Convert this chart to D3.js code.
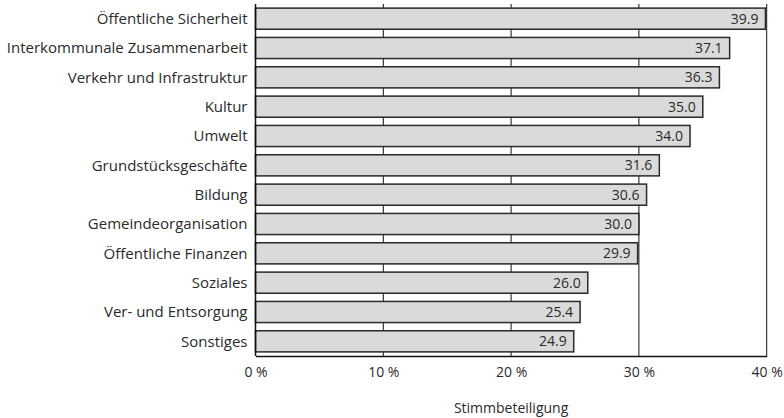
<!DOCTYPE html>
<html>
<head>
<meta charset="utf-8">
<script src="https://cdn.jsdelivr.net/npm/d3@7"></script>
<style>
  body { margin: 0; background: #fff; }
  svg text { font-family: "Open Sans", "Noto Sans", sans-serif; fill: #2a2a2a; }
</style>
</head>
<body>
<svg id="chart" width="784" height="418"></svg>
<script>
// Voter turnout by policy area
const categories = [
  "Öffentliche Sicherheit",
  "Interkommunale Zusammenarbeit",
  "Verkehr und Infrastruktur",
  "Kultur",
  "Umwelt",
  "Grundstücksgeschäfte",
  "Bildung",
  "Gemeindeorganisation",
  "Öffentliche Finanzen",
  "Soziales",
  "Ver- und Entsorgung",
  "Sonstiges"
];
const values = [39.9, 37.1, 36.3, 35.0, 34.0, 31.6, 30.6, 30.0, 29.9, 26.0, 25.4, 24.9];
const xTicks = [0, 10, 20, 30, 40];
const xTitle = "Stimmbeteiligung";

const svg = d3.select("#chart");
const plotLeft = 255.5, plotRight = 766.7, plotTop = 4, plotBottom = 356;
const fontStack = "\"Open Sans\", \"Noto Sans\", sans-serif";

const x = d3.scaleLinear().domain([0, 40]).range([plotLeft, plotRight]);
const y = d3.scaleBand().domain(categories).range([plotTop, plotBottom])
  .paddingInner(0.28).paddingOuter(0.14);

// vertical gridlines behind the bars
svg.append("g").selectAll("line").data(xTicks.filter(d => d > 0)).join("line")
  .attr("x1", d => x(d)).attr("x2", d => x(d))
  .attr("y1", plotTop).attr("y2", plotBottom)
  .attr("stroke", "#111").attr("stroke-width", 1);

// bars
svg.append("g").selectAll("rect").data(values).join("rect")
  .attr("x", x(0))
  .attr("y", (d, i) => y(categories[i]))
  .attr("width", d => x(d) - x(0))
  .attr("height", y.bandwidth())
  .attr("fill", "#dadada")
  .attr("stroke", "#2a2a2a")
  .attr("stroke-width", 1.5);

// value labels inside bar ends
svg.append("g").selectAll("text").data(values).join("text")
  .attr("x", d => x(d) - 7)
  .attr("y", (d, i) => y(categories[i]) + y.bandwidth() / 2)
  .attr("dy", "0.36em")
  .attr("text-anchor", "end")
  .attr("font-size", 14)
  .text(d => d.toFixed(1));

// left axis line and category labels
svg.append("line")
  .attr("x1", plotLeft).attr("x2", plotLeft).attr("y1", plotTop).attr("y2", plotBottom)
  .attr("stroke", "#111").attr("stroke-width", 1.5);
svg.append("g").selectAll("text").data(categories).join("text")
  .attr("x", plotLeft - 8)
  .attr("y", d => y(d) + y.bandwidth() / 2)
  .attr("dy", "0.36em")
  .attr("text-anchor", "end")
  .attr("font-size", 15)
  .text(d => d);

// bottom axis
const xAxis = d3.axisBottom(x).tickValues(xTicks).tickSize(0).tickPadding(11)
  .tickFormat(d => d + " %");
const gx = svg.append("g").attr("transform", `translate(0,${plotBottom})`).call(xAxis);
gx.select(".domain").attr("stroke", "#111").attr("stroke-width", 1.5);
gx.selectAll("text").attr("font-size", 14).attr("fill", "#2a2a2a")
  .attr("font-family", fontStack);

svg.append("text")
  .attr("x", (plotLeft + plotRight) / 2)
  .attr("y", 413)
  .attr("text-anchor", "middle")
  .attr("font-size", 14)
  .text(xTitle);
</script>
</body>
</html>
